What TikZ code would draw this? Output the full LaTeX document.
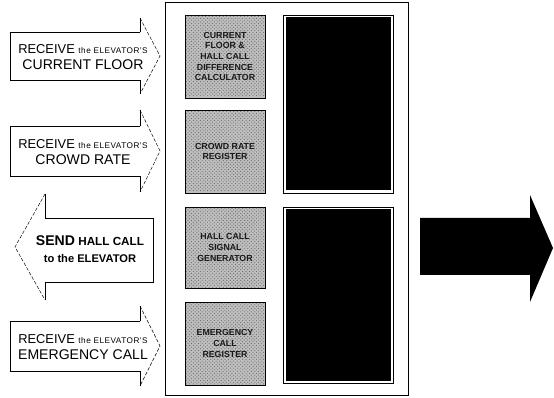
\documentclass[tikz,border=0pt]{standalone}
\usepackage{fontspec}
\setmainfont{Liberation Sans}
\usetikzlibrary{patterns}

\tikzset{
  headedge/.style={dashed, dash pattern=on 3pt off 1.5pt, thin},
  unitbox/.style={draw=black, thick, fill=gray!50},
  unittext/.style={align=center, font=\fontsize{7.5}{9}\selectfont\bfseries, text=black!90},
  inlabel/.style={align=center, inner sep=0pt}
}
\newcommand{\capbig}{\fontsize{11}{12}\selectfont}
\newcommand{\capsmall}{\fontsize{7}{8}\selectfont\addfontfeatures{LetterSpace=6}}

\begin{document}
\begin{tikzpicture}[x=0.03cm, y=-0.03cm]
\useasboundingbox (0,0) rectangle (554,398);

% receiving arrows (pointing right)
\foreach \yc/\hs/\hh in {56/24/38, 151/25/41, 346/25/40}{
  \draw[thin] (140,\yc-\hs) -- (10,\yc-\hs) -- (10,\yc+\hs) -- (140,\yc+\hs) -- (140,\yc+\hh);
  \draw[thin] (140,\yc-\hs) -- (140,\yc-\hh);
  \draw[headedge] (140,\yc-\hh) -- (160,\yc) -- (140,\yc+\hh);
}
% sending arrow (pointing left)
\draw[thin] (45,218) -- (153,218) -- (153,282) -- (45,282) -- (45,300);
\draw[thin] (45,218) -- (45,194);
\draw[headedge] (45,194) -- (15,247) -- (45,300);

\node[inlabel] (recvfloor) at (83,57) {\capbig RECEIVE {\capsmall the ELEVATOR'S}\\[2pt]{\fontsize{12}{13}\selectfont CURRENT FLOOR}};
\node[inlabel] (recvcrowd) at (83,152) {\capbig RECEIVE {\capsmall the ELEVATOR'S}\\[2pt]{\fontsize{12}{13}\selectfont CROWD RATE}};
\node[inlabel] (sendcall) at (90,249) {\bfseries{\fontsize{12}{13}\selectfont SEND} {\fontsize{10}{11}\selectfont HALL CALL}\\[2pt]\bfseries\fontsize{9.5}{11}\selectfont to the ELEVATOR};
\node[inlabel] (recvemerg) at (83,347) {\capbig RECEIVE {\capsmall the ELEVATOR'S}\\[2pt]{\fontsize{12}{13}\selectfont EMERGENCY CALL}};

% controller panel
\draw[thin] (165,2) rectangle (408,395);
\foreach \top/\bot in {15/98, 110/193, 207/288, 302/385}{
  \draw[unitbox] (185,\top) rectangle (265,\bot);
  \fill[pattern=crosshatch dots, pattern color=gray!80!black] (186,\top+1) rectangle (264,\bot-1);
}
\node[unittext] (calc) at (225,56.5) {CURRENT\\FLOOR \&\\HALL CALL\\DIFFERENCE\\CALCULATOR};
\node[unittext] (crowdreg) at (225,151.5) {CROWD RATE\\REGISTER};
\node[unittext] (signalgen) at (225,247.5) {HALL CALL\\SIGNAL\\GENERATOR};
\node[unittext] (emergreg) at (225,343.5) {EMERGENCY\\CALL\\REGISTER};

\draw[thick] (283,15) rectangle (393,193);
\fill (285.5,17.5) rectangle (390.5,190.5);
\draw[thick] (283,207) rectangle (393,383);
\fill (285.5,209.5) rectangle (390.5,380.5);

% output arrow
\fill (420,218) -- (530,218) -- (530,195) -- (553,248) -- (530,302) -- (530,275) -- (420,275) -- cycle;
\end{tikzpicture}
\end{document}
